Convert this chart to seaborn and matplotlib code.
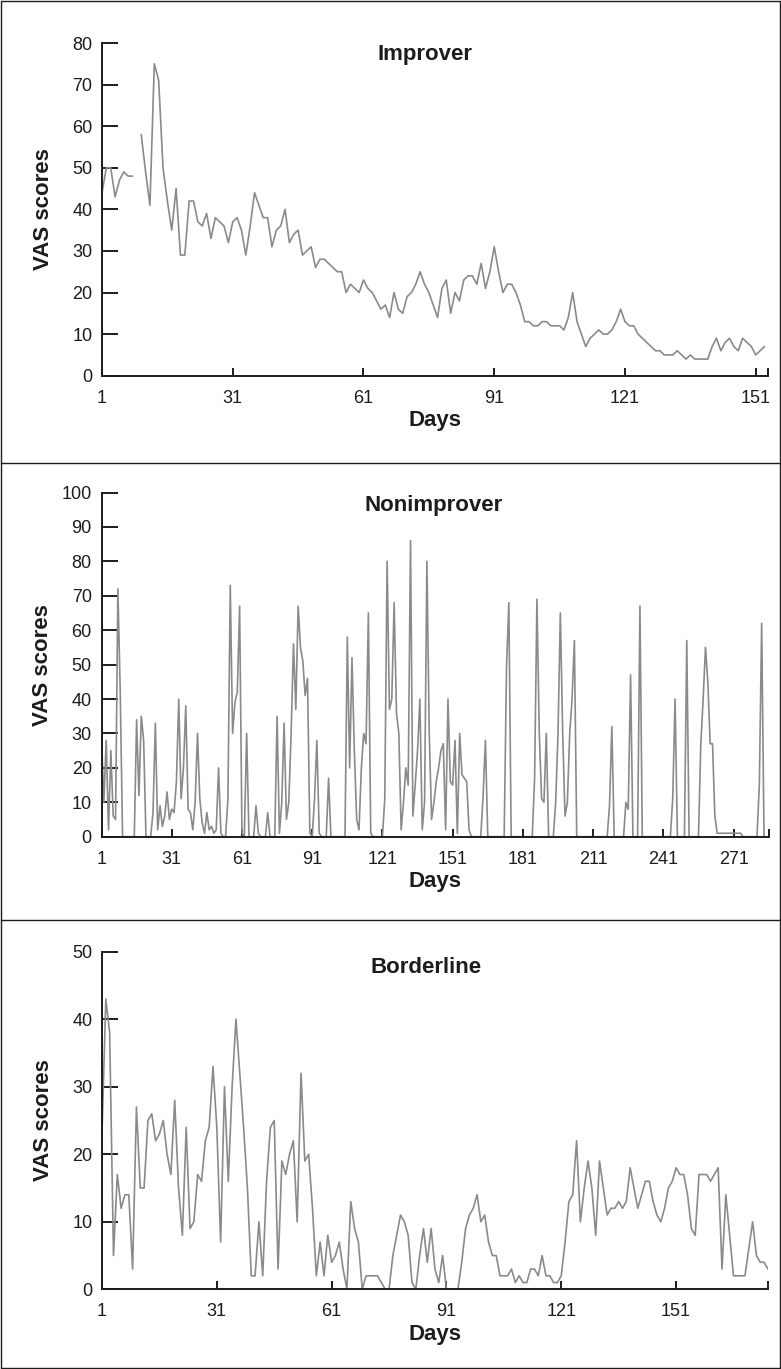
import numpy as np
import pandas as pd
import matplotlib
matplotlib.use("Agg")
import matplotlib.pyplot as plt
from matplotlib.lines import Line2D
import seaborn as sns

# ---------------- data (VAS score per day) ----------------
improver_vals = [
    44, 50, 50, 43, 47, 49, 48, 48, np.nan, 58, 49, 41, 75, 71, 50,
    42, 35, 45, 29, 29, 42, 42, 37, 36, 39, 33, 38, 37, 36, 32,
    37, 38, 35, 29, 36, 44, 41, 38, 38, 31, 35, 36, 40, 32, 34,
    35, 29, 30, 31, 26, 28, 28, 27, 26, 25, 25, 20, 22, 21, 20,
    23, 21, 20, 18, 16, 17, 14, 20, 16, 15, 19, 20, 22, 25, 22,
    20, 17, 14, 21, 23, 15, 20, 18, 23, 24, 24, 22, 27, 21, 25,
    31, 25, 20, 22, 22, 20, 17, 13, 13, 12, 12, 13, 13, 12, 12,
    12, 11, 14, 20, 13, 10, 7, 9, 10, 11, 10, 10, 11, 13, 16,
    13, 12, 12, 10, 9, 8, 7, 6, 6, 5, 5, 5, 6, 5, 4,
    5, 4, 4, 4, 4, 7, 9, 6, 8, 9, 7, 6, 9, 8, 7,
    5, 6, 7,
]

nonimprover_vals = [
    29, 10, 28, 2, 25, 6, 5, 72, 42, 0, 0, 0, 0, 0, 0,
    34, 12, 35, 28, 0, 0, 0, 7, 33, 2, 9, 3, 6, 13, 5,
    8, 7, 16, 40, 11, 20, 38, 8, 7, 2, 10, 30, 11, 4, 1,
    7, 2, 3, 1, 2, 20, 1, 0, 0, 11, 73, 30, 39, 42, 67,
    1, 0, 30, 0, 0, 0, 9, 1, 0, 0, 0, 7, 0, 0, 0,
    35, 1, 10, 33, 5, 10, 30, 56, 37, 67, 55, 51, 41, 46, 1,
    0, 11, 28, 1, 0, 0, 0, 17, 0, 0, 0, 0, 0, 0, 0,
    58, 20, 52, 25, 5, 2, 20, 30, 27, 65, 1, 0, 0, 0, 0,
    0, 11, 80, 37, 40, 68, 36, 30, 2, 10, 20, 15, 86, 6, 15,
    25, 40, 2, 10, 80, 30, 5, 10, 16, 20, 25, 27, 2, 40, 16,
    15, 28, 1, 30, 18, 17, 16, 2, 0, 0, 0, 0, 0, 12, 28,
    0, 0, 0, 0, 0, 0, 0, 0, 49, 68, 0, 0, 0, 0, 0,
    0, 0, 0, 0, 0, 17, 69, 30, 11, 10, 30, 0, 0, 0, 10,
    30, 65, 30, 6, 10, 30, 40, 57, 0, 0, 0, 0, 0, 0, 0,
    0, 0, 0, 0, 0, 0, 0, 9, 32, 0, 0, 0, 0, 0, 10,
    8, 47, 0, 0, 0, 67, 0, 0, 0, 0, 0, 0, 0, 0, 0,
    0, 0, 0, 0, 11, 40, 0, 0, 0, 0, 57, 0, 0, 0, 0,
    0, 27, 40, 55, 45, 27, 27, 6, 1, 1, 1, 1, 1, 1, 1,
    1, 1, 1, 1, 0, 0, 0, 0, 0, 0, 0, 15, 62, 0, 0,
]

borderline_vals = [
    23, 43, 38, 5, 17, 12, 14, 14, 3, 27, 15, 15, 25, 26, 22,
    23, 25, 20, 17, 28, 15, 8, 24, 9, 10, 17, 16, 22, 24, 33,
    24, 7, 30, 16, 30, 40, 32, 24, 15, 2, 2, 10, 2, 16, 24,
    25, 3, 19, 17, 20, 22, 10, 32, 19, 20, 12, 2, 7, 2, 8,
    4, 5, 7, 3, 0, 13, 9, 7, 0, 2, 2, 2, 2, 1, 0,
    0, 5, 8, 11, 10, 8, 1, 0, 5, 9, 4, 9, 3, 1, 5,
    0, 0, 0, 0, 4, 9, 11, 12, 14, 10, 11, 7, 5, 5, 2,
    2, 2, 3, 1, 2, 1, 1, 3, 3, 2, 5, 2, 2, 1, 1,
    2, 7, 13, 14, 22, 10, 15, 19, 15, 8, 19, 15, 11, 12, 12,
    13, 12, 13, 18, 15, 12, 14, 16, 16, 13, 11, 10, 12, 15, 16,
    18, 17, 17, 14, 9, 8, 17, 17, 17, 16, 17, 18, 3, 14, 8,
    2, 2, 2, 2, 6, 10, 5, 4, 4, 3,
]

panel_titles = ["Improver", "Nonimprover", "Borderline"]
x_ticks = [
    [1, 31, 61, 91, 121, 151],
    [1, 31, 61, 91, 121, 151, 181, 211, 241, 271],
    [1, 31, 61, 91, 121, 151],
]
y_ticks = [
    [0, 10, 20, 30, 40, 50, 60, 70, 80],
    [0, 10, 20, 30, 40, 50, 60, 70, 80, 90, 100],
    [0, 10, 20, 30, 40, 50],
]
x_ends = [153.75, 286, 175.1]
x_label = "Days"
y_label = "VAS scores"

# ---------------- style ----------------
sns.set_style("ticks")
plt.rcParams["font.family"] = ["Liberation Sans", "DejaVu Sans"]

W, H = 781, 1369
fig = plt.figure(figsize=(W / 100, H / 100), dpi=100)

# axes rectangles in pixels: left, right, top, bottom
boxes = [
    (102, 767.7, 43, 375.7),
    (101.5, 768.7, 492.5, 836.7),
    (102, 768.3, 951.7, 1289.3),
]
title_pos = [(0.485, 0.965), (0.498, 0.962), (0.486, 0.952)]

series = [improver_vals, nonimprover_vals, borderline_vals]
line_color = "#8a8a8a"
ink = "#1c1c1c"

for i, (vals, (l, r, t, b)) in enumerate(zip(series, boxes)):
    ax = fig.add_axes([l / W, 1 - b / H, (r - l) / W, (b - t) / H])
    vals = np.asarray(vals, dtype=float)
    days = np.arange(1, len(vals) + 1)
    df = pd.DataFrame({"day": days, "vas": vals})
    # split into segments at missing values so the line breaks there
    df["seg"] = np.cumsum(np.isnan(vals))
    df = df.dropna()
    for _, seg in df.groupby("seg"):
        sns.lineplot(data=seg, x="day", y="vas", ax=ax, color=line_color,
                     linewidth=1.2, estimator=None, sort=False, legend=False)

    ax.set_xlim(1, x_ends[i])
    ax.set_ylim(0, y_ticks[i][-1])
    ax.set_xticks(x_ticks[i])
    ax.set_yticks(y_ticks[i])
    ax.set_xticks([x_ends[i]], minor=True)
    for s in ["top", "right"]:
        ax.spines[s].set_visible(False)
    for s in ["left", "bottom"]:
        ax.spines[s].set_linewidth(1.4)
        ax.spines[s].set_color(ink)
    ax.tick_params(axis="y", direction="in", length=11.5, width=1.4,
                   color=ink, labelsize=13, labelcolor=ink, pad=7)
    ax.tick_params(axis="x", which="both", direction="in", length=6, width=1.4,
                   color=ink, labelsize=13, labelcolor=ink, pad=10)
    ax.set_xlabel(x_label, fontsize=16, fontweight="bold", color=ink, labelpad=2.5)
    ax.set_ylabel(y_label, fontsize=16, fontweight="bold", color=ink)
    ax.yaxis.set_label_coords(-0.072, 0.5)
    tx, ty = title_pos[i]
    ax.text(tx, ty, panel_titles[i], transform=ax.transAxes, ha="center",
            va="center", fontsize=16, fontweight="bold", color=ink)
    ax.patch.set_alpha(0)

# frame around the three panels
def hline(ypx):
    fig.add_artist(Line2D([0.6 / W, 1 - 0.6 / W], [1 - ypx / H, 1 - ypx / H],
                          transform=fig.transFigure, color=ink, lw=1.0))

def vline(xpx):
    fig.add_artist(Line2D([xpx / W, xpx / W], [0.6 / H, 1 - 0.6 / H],
                          transform=fig.transFigure, color=ink, lw=1.0))

for ypx in [0.6, 463, 920, H - 0.6]:
    hline(ypx)
for xpx in [0.6, W - 0.6]:
    vline(xpx)

fig.savefig("out.png", dpi=100, facecolor="white")
